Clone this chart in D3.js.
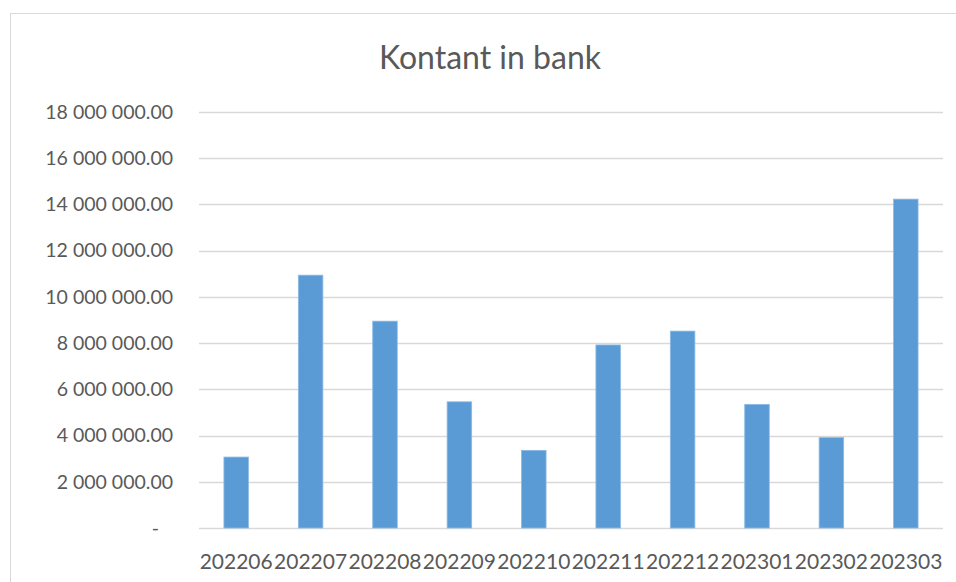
<!DOCTYPE html>
<html>
<head>
<meta charset="utf-8">
<script src="https://cdn.jsdelivr.net/npm/d3@7"></script>
<style>
  body { margin: 0; background: #fff; }
  svg { display: block; font-family: Lato, "Open Sans", sans-serif; }
</style>
</head>
<body>
<svg></svg>
<script>
// Chart size matches the browser window
var canvasSize = {width: 956, height: 582}
// Plot area inside the chart frame
var margin = {top: 112, right: 13, bottom: 54, left: 199},
    width = canvasSize.width - margin.left - margin.right,
    height = canvasSize.height - margin.top - margin.bottom;

// Data
var months = ["202206", "202207", "202208", "202209", "202210",
              "202211", "202212", "202301", "202302", "202303"]
var cash = [3070000, 10940000, 8950000, 5460000, 3360000,
            7920000, 8520000, 5350000, 3910000, 14230000]
var yTicks = [0, 2000000, 4000000, 6000000, 8000000, 10000000,
              12000000, 14000000, 16000000, 18000000]

var svg = d3.select("svg")
    .attr("width", canvasSize.width)
    .attr("height", canvasSize.height)

// chart frame (light grey border like the spreadsheet chart)
svg.append("rect")
    .attr("x", 10.5)
    .attr("y", 13.5)
    .attr("width", canvasSize.width)
    .attr("height", canvasSize.height)
    .attr("fill", "none")
    .attr("stroke", "#d9d9d9")

svg.append("text")
    .attr("x", 490)
    .attr("y", 69)
    .attr("text-anchor", "middle")
    .attr("fill", "#595959")
    .attr("font-size", 32)
    .text("Kontant in bank")

var x = d3.scaleBand()
    .domain(months)
    .range([0, width])
    .paddingInner(0.67)
    .paddingOuter(0.335)

var y = d3.scaleLinear()
    .domain([0, 18000000])
    .range([height, 0])

var view = svg.append("g")
    .attr("transform", `translate(${margin.left},${margin.top})`)

// Horizontal gridlines
view.selectAll(".grid")
    .data(yTicks)
    .enter().append("line")
        .attr("class", "grid")
        .attr("x1", 0)
        .attr("x2", width)
        .attr("y1", d => Math.round(y(d)) + 0.5)
        .attr("y2", d => Math.round(y(d)) + 0.5)
        .attr("stroke", "#d9d9d9")
        .attr("stroke-width", 1.3)

// y tick labels, "18 000 000.00" style, zero shown as "-"
var fmt = d => d === 0 ? "-" : d3.format(",.2f")(d).replace(/,/g, " ")
view.selectAll(".ylab")
    .data(yTicks)
    .enter().append("text")
        .attr("class", "ylab")
        .attr("x", d => d === 0 ? -40 : -26)
        .attr("y", d => y(d))
        .attr("dy", "0.35em")
        .attr("text-anchor", "end")
        .attr("fill", "#595959")
        .attr("font-size", 19.5)
        .text(fmt)

view.selectAll(".bar")
    .data(cash)
    .enter().append("rect")
        .attr("class", "bar")
        .attr("x", (d, i) => x(months[i]))
        .attr("y", d => y(d))
        .attr("width", x.bandwidth())
        .attr("height", d => height - y(d))
        .attr("fill", "#5b9bd5")
        .attr("stroke", "#8cbbe6")
        .attr("stroke-width", 0.8)

// x labels
view.selectAll(".xlab")
    .data(months)
    .enter().append("text")
        .attr("class", "xlab")
        .attr("x", d => x(d) + x.bandwidth() / 2)
        .attr("y", height + 41)
        .attr("text-anchor", "middle")
        .attr("fill", "#595959")
        .attr("font-size", 21)
        .text(d => d)
</script>
</body>
</html>
